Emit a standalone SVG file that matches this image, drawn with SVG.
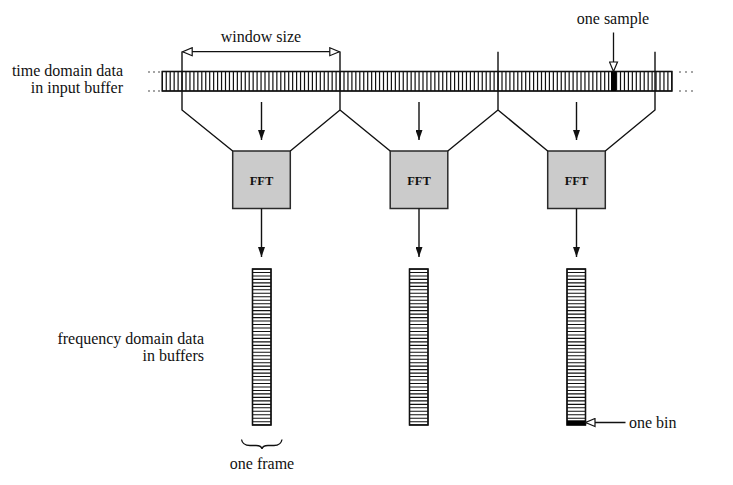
<svg xmlns="http://www.w3.org/2000/svg" width="733" height="485" viewBox="0 0 733 485">
<defs>
<marker id="solid" viewBox="0 0 10 7" refX="10" refY="3.5" markerWidth="10" markerHeight="7" markerUnits="userSpaceOnUse" orient="auto">
<path d="M0,0 L10,3.5 L0,7 z" fill="#111"/>
</marker>
<marker id="open" viewBox="-1 -1 12 10" refX="9.5" refY="4" markerWidth="12" markerHeight="10" markerUnits="userSpaceOnUse" orient="auto-start-reverse">
<path d="M0,0 L9.5,4 L0,8 z" fill="#fff" stroke="#111" stroke-width="1.2"/>
</marker>
</defs>
<style>
text{font-family:"Liberation Serif","Times New Roman",serif;font-size:16px;fill:#111}
.fft{font-weight:bold;font-size:12.5px;text-anchor:middle}
.r{text-anchor:end}
.m{text-anchor:middle}
.ln{stroke:#111;stroke-width:1.4;fill:none}
.box{fill:#cbcbcb;stroke:#2a2a2a;stroke-width:1.5}
.buf{fill:#fff;stroke:#111;stroke-width:1.3}
.edge{fill:none;stroke:#111;stroke-width:1.3}
.cells{stroke:#111;stroke-width:19.5;stroke-dasharray:1.2 2.75;stroke-dashoffset:0.6;fill:none}
.rows{stroke:#111;stroke-width:18.5;stroke-dasharray:1.1 2.37;stroke-dashoffset:0.55;fill:none}
.dot{fill:#333}
.arr{stroke:#111;stroke-width:1.4;fill:none;marker-end:url(#solid)}
.oarr{stroke:#111;stroke-width:1.3;fill:none;marker-end:url(#open)}
</style>
<rect width="733" height="485" fill="#fff"/>

<g id="input-buffer">
<rect class="buf" x="162.3" y="71.5" width="509.55" height="19.5"/>
<line class="cells" x1="162.3" y1="81.25" x2="671.85" y2="81.25"/>
<rect class="edge" x="162.3" y="71.5" width="509.55" height="19.5"/>
<rect x="611" y="71.5" width="5" height="19.5" fill="#000"/>
<g class="dot">
<circle cx="149" cy="72" r="0.8"/><circle cx="154" cy="72" r="0.8"/><circle cx="159" cy="72" r="0.8"/>
<circle cx="149" cy="91" r="0.8"/><circle cx="154" cy="91" r="0.8"/><circle cx="159" cy="91" r="0.8"/>
<circle cx="680" cy="72" r="0.8"/><circle cx="686" cy="72" r="0.8"/><circle cx="692" cy="72" r="0.8"/>
<circle cx="680" cy="91" r="0.8"/><circle cx="686" cy="91" r="0.8"/><circle cx="692" cy="91" r="0.8"/>
</g>
</g>

<g id="fft1">
<rect class="box" x="232.7" y="151" width="57.6" height="57.5"/>
<text class="fft" x="261.5" y="184.5">FFT</text>
</g>
<g id="fft2">
<rect class="box" x="390.2" y="151" width="57.6" height="57.5"/>
<text class="fft" x="419" y="184.5">FFT</text>
</g>
<g id="fft3">
<rect class="box" x="547.7" y="151" width="57.6" height="57.5"/>
<text class="fft" x="576.5" y="184.5">FFT</text>
</g>

<g id="frame1">
<rect class="buf" x="252.5" y="269" width="18.5" height="156"/>
<line class="rows" x1="261.75" y1="269" x2="261.75" y2="425"/>
<rect class="edge" x="252.5" y="269" width="18.5" height="156"/>
</g>
<g id="frame2">
<rect class="buf" x="409.5" y="269" width="18.5" height="156"/>
<line class="rows" x1="418.75" y1="269" x2="418.75" y2="425"/>
<rect class="edge" x="409.5" y="269" width="18.5" height="156"/>
</g>
<g id="frame3">
<rect class="buf" x="567" y="269" width="18.5" height="156"/>
<line class="rows" x1="576.25" y1="269" x2="576.25" y2="425"/>
<rect class="edge" x="567" y="269" width="18.5" height="156"/>
<rect x="567" y="420.3" width="18.5" height="4.7" fill="#000"/>
</g>

<g id="connectors">
<path class="ln" d="M182,51.7 V110 L232.7,151"/>
<path class="ln" d="M340,51.7 V110 L290.3,151 M340,110 L390.2,151"/>
<path class="ln" d="M498,51.7 V110 L447.8,151 M498,110 L547.7,151"/>
<path class="ln" d="M655,51.7 V110 L605.3,151"/>
<line class="oarr" x1="261" y1="51.7" x2="182.7" y2="51.7"/>
<line class="oarr" x1="261" y1="51.7" x2="339.3" y2="51.7"/>
<line class="oarr" x1="613.5" y1="32.5" x2="613.5" y2="71.5"/>
<line class="oarr" x1="625.5" y1="422.5" x2="585.5" y2="422.5"/>
<line class="arr" x1="261.5" y1="102" x2="261.5" y2="140"/>
<line class="arr" x1="419" y1="102" x2="419" y2="140"/>
<line class="arr" x1="576.5" y1="102" x2="576.5" y2="140"/>
<line class="arr" x1="261.5" y1="208.5" x2="261.5" y2="257"/>
<line class="arr" x1="419" y1="208.5" x2="419" y2="257"/>
<line class="arr" x1="576.5" y1="208.5" x2="576.5" y2="257"/>
<path class="ln" style="stroke-width:1.3" d="M241.5,439.5 Q242.5,445.5 250,445.5 L256,445.5 Q261.5,445.5 262,449 Q262.5,445.5 268,445.5 L274,445.5 Q281,445.5 282,439.5"/>
</g>

<g id="labels">
<text x="261" y="42" class="m">window size</text>
<text x="613" y="24" class="m">one sample</text>
<text x="123" y="76" class="r">time domain data</text>
<text x="123" y="93" class="r">in input buffer</text>
<text x="204" y="344" class="r">frequency domain data</text>
<text x="204" y="361" class="r">in buffers</text>
<text x="262" y="469" class="m">one frame</text>
<text x="629" y="428">one bin</text>
</g>
</svg>
